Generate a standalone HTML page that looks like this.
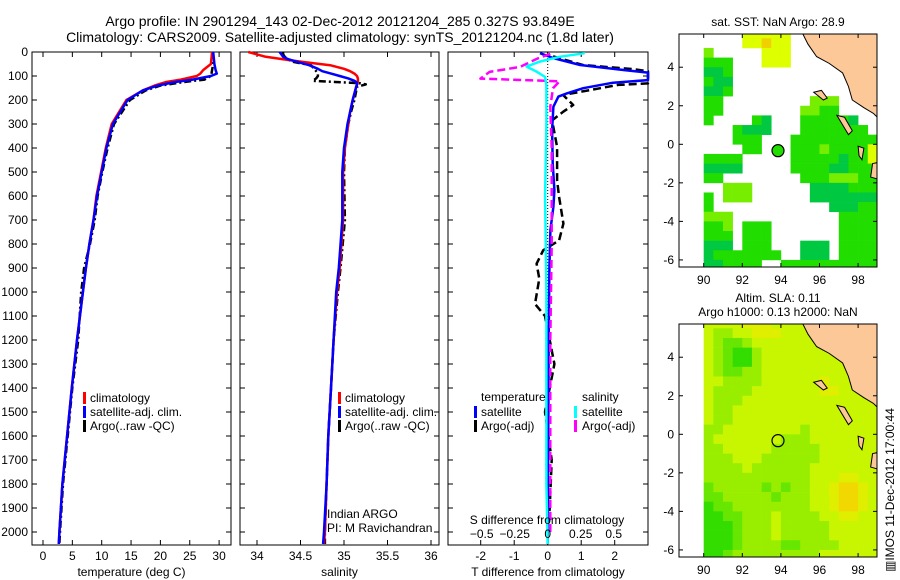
<!DOCTYPE html>
<html><head><meta charset="utf-8"><style>
body{margin:0;background:#fff;}
svg{display:block;font-family:"Liberation Sans",sans-serif;}
text{fill:#000;}
</style></head><body>
<svg id="s" width="900" height="580" viewBox="0 0 900 580" xmlns="http://www.w3.org/2000/svg">
<text x="340" y="26" font-size="14" text-anchor="middle">Argo profile: IN 2901294_143 02-Dec-2012 20121204_285 0.327S 93.849E</text>
<text x="340" y="42" font-size="14" text-anchor="middle">Climatology: CARS2009. Satellite-adjusted climatology: synTS_20121204.nc (1.8d later)</text>
<text x="778" y="26" font-size="12" text-anchor="middle">sat. SST: NaN Argo: 28.9</text>
<text x="778" y="302" font-size="12" text-anchor="middle">Altim. SLA: 0.11</text>
<text x="778" y="316" font-size="12" text-anchor="middle">Argo h1000: 0.13 h2000: NaN</text>
<text font-size="12" transform="translate(894,572) rotate(-90)">▥IMOS 11-Dec-2012 17:00:44</text>
<g id="g"></g>
</svg>
<script>
// ---- profile data ----
const depthT=[0,50,75,90,100,115,125,140,160,200,300,400,500,600,700,800,900,1000,1200,1400,1600,1800,2000,2050];
const tempClim=[28.8,28.6,27.3,26.8,26.2,23.5,21,19,17,14.2,11.7,10.7,9.9,9.1,8.6,7.9,7.3,6.8,5.8,4.9,4.1,3.3,2.8,2.7];
const tempSat=[29.0,29.2,29.4,29.6,28.6,25.5,22.5,19.5,17.0,14.4,11.9,10.8,10.0,9.2,8.6,7.9,7.3,6.8,5.8,4.9,4.1,3.3,2.8,2.7];
const tempArgo=[28.9,29.0,28.8,28.7,28.6,27.5,24,20,17.5,14.8,12.1,11,10.1,9.3,8.8,8.0,7.0,6.5,6.0,5.0,4.2,3.4,2.9,2.8];
const depthS=[0,10,20,30,40,55,70,80,90,100,110,120,125,130,135,145,200,250,300,400,500,700,900,1000,1200,1400,1600,1800,2000,2050];
const salClim=[33.9,34.0,34.1,34.3,34.5,34.84,35.0,35.07,35.12,35.15,35.16,35.16,35.16,35.15,35.15,35.14,35.1,35.07,35.05,35.01,34.99,34.99,34.95,34.92,34.88,34.85,34.82,34.8,34.78,34.77];
const salSat=[34.26,34.28,34.3,34.36,34.45,34.6,34.7,34.75,34.85,34.95,35.05,35.12,35.14,35.15,35.15,35.14,35.1,35.07,35.04,35.0,34.98,34.98,34.94,34.91,34.88,34.85,34.82,34.8,34.77,34.76];
const salArgo=[34.3,34.3,34.32,34.35,34.4,34.62,34.66,34.68,34.7,34.7,34.68,34.64,34.9,35.18,35.25,35.15,35.12,35.08,35.05,35.01,35.0,35.01,34.96,34.93,34.88,34.85,34.82,34.8,34.78,34.78];
const tdSatD=[5,25,54,75,86,117,128,151,172,186,228,325,464,575,644,742,900,1200,1500,1800,2050];
const tdSat=[-0.23,0.16,0.97,2.26,3.2,3.2,1.95,1.06,0.58,0.32,0.17,0.13,0.15,0.2,0.17,0.08,0.05,0.03,0.02,0.01,0];
const tdArgoD=[18,54,72,80,131,137,179,221,249,285,396,535,604,715,785,826,882,944,1050,1100,1300,1500,1700,1900,2000];
const tdArgo=[0.16,1.05,2.6,3.2,3.2,2.1,0.46,0.76,0.46,0.13,0.28,0.28,0.34,0.47,0.34,-0.13,-0.33,-0.25,-0.38,-0.08,0.2,-0.08,0.12,0.06,0.01];
const sdArgoD=[8,28,62,83,111,122,151,228,400,800,1200,1600,2000];
const sdArgo=[0.02,-0.08,-0.21,-0.44,-0.51,0.09,0.04,0.02,0.03,0.03,0.02,0.02,0.02];
const sdSatD=[5,20,40,61,83,104,140,300,600,1000,1400,1800,2050];
const sdSat=[0.28,0.09,-0.06,-0.16,-0.08,-0.02,-0.01,-0.01,-0.02,-0.01,-0.01,-0.01,0];
const depthTicks=[0,100,200,300,400,500,600,700,800,900,1000,1100,1200,1300,1400,1500,1600,1700,1800,1900,2000];
const tempTicks=[0,5,10,15,20,25,30];
const salTicks=[34,34.5,35,35.5,36];
const tdTicks=[-2,-1,0,1,2];
const sdTicks=[-0.5,-0.25,0,0.25,0.5];
const latTicks=[4,2,0,-2,-4,-6];
const lonTicks=[90,92,94,96,98];
// ---- map grids (0.5 deg cells, lon 90..99, lat 6 down to -6.5) ----
const sstRows=[
"....yyyyy........y",
"....yyoyy.........",
"l.....yyy.........",
"ggg...yyy.........",
"GGg...............",
"gGG...............",
"GGg...............",
"gg.........lll....",
"gg........llgg....",
"g....gG...gggggG..",
"...gGGG...ggggggg.",
"...ggg...ggggggggg",
"....gg...ggglggggy",
"gggg.....gggggGggy",
"GGGG.....ggggGGggg",
"gg........ggglllgg",
"..lll......GGGGggg",
"g.lll......GGGGGGG",
"g............GGGgg",
"lll...........gggg",
"ggl.ggg.......gggg",
"ggg.ggg.......gggg",
"GGG.ggg...GGG.gggg",
"Gggggggg..GGG.gggg",
"GGgggg..gggggggggg"];
const slaRows=[
"aaaaeeeaaaaaaaaaaa","abbaaeeeaaaaaaaaaa","abccbaaaaaaaaaaaaa","abcddbaaaaaaaaaaaa","abcddbaaaaaaaaaaaa",
"abccbbaaaaaaaaaaaa","aabbbbaaaaaaeaaaaa","abbbbaaaaaaaeeaaaa","abbbaaaaaaaaaaaaaa","abbaaaaaaaaaaaaaaa",
"abbaaaaaaaaaaaaaaa","bbaaaaaaaabaaaaaaa","baaaaaaabbbaaaaaaa","bbaaaaabbbbbaaaaaa","bbbaaabbbbbbaaaaaa",
"bbbbabbbbbbaaaaaaa","bbbbbbbbbbbaaaeeaa","cbbbbbcbcbbaaeffea","ccbbbbbcbbbaaeffea","dccbbbbbbbbaaeffea",
"ddccbbbabbbbaaeeaa","dddcbbbabbbbbaaaaa","dddcbbbabbbbbaaaaa","dddcbbbbccbbbbaaaa","ddcbbbbbbbbbaaaaaa"];
const sumatra=[[95.1,5.8],[95.4,5.2],[95.85,4.55],[96.5,4.2],[97.2,3.7],[97.5,3.0],[97.7,2.3],[98.3,1.9],[98.8,1.6],[99,1.4],[99,5.8]];
const islands=[[[95.7,2.7],[96.1,2.8],[96.4,2.4],[96.2,2.3]],[[96.9,1.5],[97.3,1.4],[97.7,0.7],[97.5,0.5]],[[98.0,-0.1],[98.3,-0.2],[98.2,-0.8],[98.05,-0.6]],[[98.75,-1.0],[99,-0.95],[99,-1.8],[98.65,-1.7]]];
const argoPos=[93.85,-0.33];

const NS='http://www.w3.org/2000/svg';
const G=document.getElementById('g');
function el(t,a,p){const e=document.createElementNS(NS,t);for(const k in a)e.setAttribute(k,a[k]);(p||G).appendChild(e);return e;}
const yD=d=>52+d*0.24;
const colors={g:'#22dd00',G:'#00c840',l:'#77ee00',y:'#ddff00',o:'#f0d000',a:'#c8f500',b:'#99ee00',c:'#66e600',d:'#33dd00',e:'#e0ee00',f:'#f0d800'};

function panel(name,x0,x1,xs,ticks,fmt,label){
  const bg=el('rect',{x:x0,y:52,width:x1-x0,height:493,fill:'#fff',stroke:'#000','stroke-width':1});
  
  depthTicks.forEach(d=>{const y=yD(d);
    el('line',{x1:x0,x2:x0+5,y1:y,y2:y,stroke:'#000'});el('line',{x1:x1-5,x2:x1,y1:y,y2:y,stroke:'#000'});
    if(name==='temp-panel'){const t=el('text',{x:x0-4,y:y+4,'font-size':12,'text-anchor':'end'});t.textContent=d;}
  });
  ticks.forEach(v=>{const x=xs(v);el('line',{x1:x,x2:x,y1:52,y2:57,stroke:'#000'});el('line',{x1:x,x2:x,y1:540,y2:545,stroke:'#000'});
    const t=el('text',{x:x,y:560,'font-size':12,'text-anchor':'middle'});t.textContent=fmt(v);
    });
  const l=el('text',{x:(x0+x1)/2,y:576,'font-size':12,'text-anchor':'middle'});l.textContent=label;
  
}
function line(xs,vals,deps,color,dash,w,name,lo,hi){
  const pts=vals.map((v,i)=>Math.max(lo,Math.min(hi,xs(v))).toFixed(1)+','+yD(deps[i]).toFixed(1)).join(' ');
  const p=el('polyline',{points:pts,fill:'none',stroke:color,'stroke-width':w||2.5,'stroke-dasharray':dash||'none','stroke-linejoin':'round'});
  
}
function txt(x,y,s,name,anchor){const t=el('text',{x:x,y:y,'font-size':12,'text-anchor':anchor||'start'});t.textContent=s;}
function bar(x,y,c){el('rect',{x:x,y:y-10,width:3,height:12,fill:c});}

// temperature panel
const xT=v=>43+v*5.87;
panel('temp-panel',32,231,xT,tempTicks,v=>v,'temperature (deg C)');
line(xT,tempArgo,depthT,'#000','7,3,2,3',2.5,'temp-argo-line',32,231);
line(xT,tempClim,depthT,'#ff0000','',2.5,'temp-climatology-line',32,231);
line(xT,tempSat,depthT,'#0000ff','',2.5,'temp-satellite-line',32,231);
bar(83,402,'#f00');txt(90,402,'climatology','legend-climatology');
bar(83,416,'#00f');txt(90,416,'satellite-adj. clim.','legend-satellite');
bar(83,430,'#000');txt(90,430,'Argo(..raw -QC)','legend-argo');

// salinity panel
const xS=v=>257+(v-34)*87;
panel('salinity-panel',240,439,xS,salTicks,v=>v,'salinity');
line(xS,salArgo,depthS,'#000','7,3,2,3',2.5,'sal-argo-line',240,439);
line(xS,salClim,depthS,'#ff0000','',2.5,'sal-climatology-line',240,439);
line(xS,salSat,depthS,'#0000ff','',2.5,'sal-satellite-line',240,439);
bar(338,402,'#f00');txt(345,402,'climatology','legend-climatology');
bar(338,416,'#00f');txt(345,416,'satellite-adj. clim.','legend-satellite');
bar(338,430,'#000');txt(345,430,'Argo(..raw -QC)','legend-argo');
txt(327,518,'Indian ARGO','pi-institution');
txt(327,532,'PI: M Ravichandran','pi-name');

// difference panel
const xTd=v=>547.7+v*33.5, xSd=v=>547.7+v*132;
panel('diff-panel',448,648,xTd,tdTicks,v=>v,'T difference from climatology');
el('line',{x1:547.7,x2:547.7,y1:52,y2:545,stroke:'#000','stroke-dasharray':'1,2','stroke-width':1});
line(xTd,tdArgo,tdArgoD,'#000','8,4',2.5,'tdiff-argo-line',448,648);
line(xTd,tdSat,tdSatD,'#0000ff','',2.5,'tdiff-satellite-line',448,648);
line(xSd,sdArgo,sdArgoD,'#ff00ff','8,4',2.5,'sdiff-argo-line',448,648);
line(xSd,sdSat,sdSatD,'#00ffff','',2.5,'sdiff-satellite-line',448,648);
sdTicks.forEach(v=>txt(xSd(v),538,String(v).replace('-','\u2212'),'s-tick-label','middle'));
txt(547,524,'S difference from climatology','s-axis-title','middle');
txt(481,401,'temperature','legend-temperature-header');
bar(474,416,'#00f');txt(481,416,'satellite','legend-t-satellite');
bar(474,430,'#000');txt(481,430,'Argo(-adj)','legend-t-argo');
txt(582,401,'salinity','legend-salinity-header');
bar(574,416,'#0ff');txt(582,416,'satellite','legend-s-satellite');
bar(574,430,'#f0f');txt(582,430,'Argo(-adj)','legend-s-argo');

// maps
function map(name,top,rows,circleFill){
  const lx=v=>703.7+(v-90)*19.3, ly=v=>top+110.3-v*19.27;
  const x0=679,x1=877,y0=top,y1=top+233;
  const cp='clip-'+name;const c=el('clipPath',{id:cp});el('rect',{x:x0,y:y0,width:x1-x0,height:y1-y0},c);
  const grp=el('g',{'clip-path':'url(#'+cp+')'});
  
  rows.forEach((r,ri)=>{for(let ci=0;ci<r.length;ci++){const ch=r[ci];if(ch==='.')continue;
    const lon=90+ci*0.5,lat=6-ri*0.5;
    el('rect',{x:lx(lon),y:ly(lat),width:19.3*0.5+0.3,height:19.27*0.5+0.3,fill:colors[ch]},grp);}});
  const land=el('polygon',{points:sumatra.map(p=>lx(p[0])+','+ly(p[1])).join(' '),fill:'#fdc897',stroke:'#000','stroke-width':1},grp);
  
  islands.forEach(is=>el('polygon',{points:is.map(p=>lx(p[0])+','+ly(p[1])).join(' '),fill:'#fdc897',stroke:'#000','stroke-width':1},grp));
  const f=el('rect',{x:x0,y:y0,width:x1-x0,height:y1-y0,fill:'none',stroke:'#000'});
  
  latTicks.forEach(v=>{const y=ly(v);el('line',{x1:x0,x2:x0+4,y1:y,y2:y,stroke:'#000'});el('line',{x1:x1-4,x2:x1,y1:y,y2:y,stroke:'#000'});
    txt(674,y+4,String(v),'lat-tick-label','end');});
  lonTicks.forEach(v=>{const x=lx(v);el('line',{x1:x,x2:x,y1:y0,y2:y0+4,stroke:'#000'});el('line',{x1:x,x2:x,y1:y1-4,y2:y1,stroke:'#000'});
    txt(x,y1+17,String(v),'lon-tick-label','middle');});
  const ci=el('circle',{cx:lx(argoPos[0]),cy:ly(argoPos[1]),r:6,fill:circleFill,stroke:'#000','stroke-width':1.2});
  
}
map('sst-map',34,sstRows,'#22dd00');
map('sla-map',324,slaRows,'none');
</script>
</body></html>
